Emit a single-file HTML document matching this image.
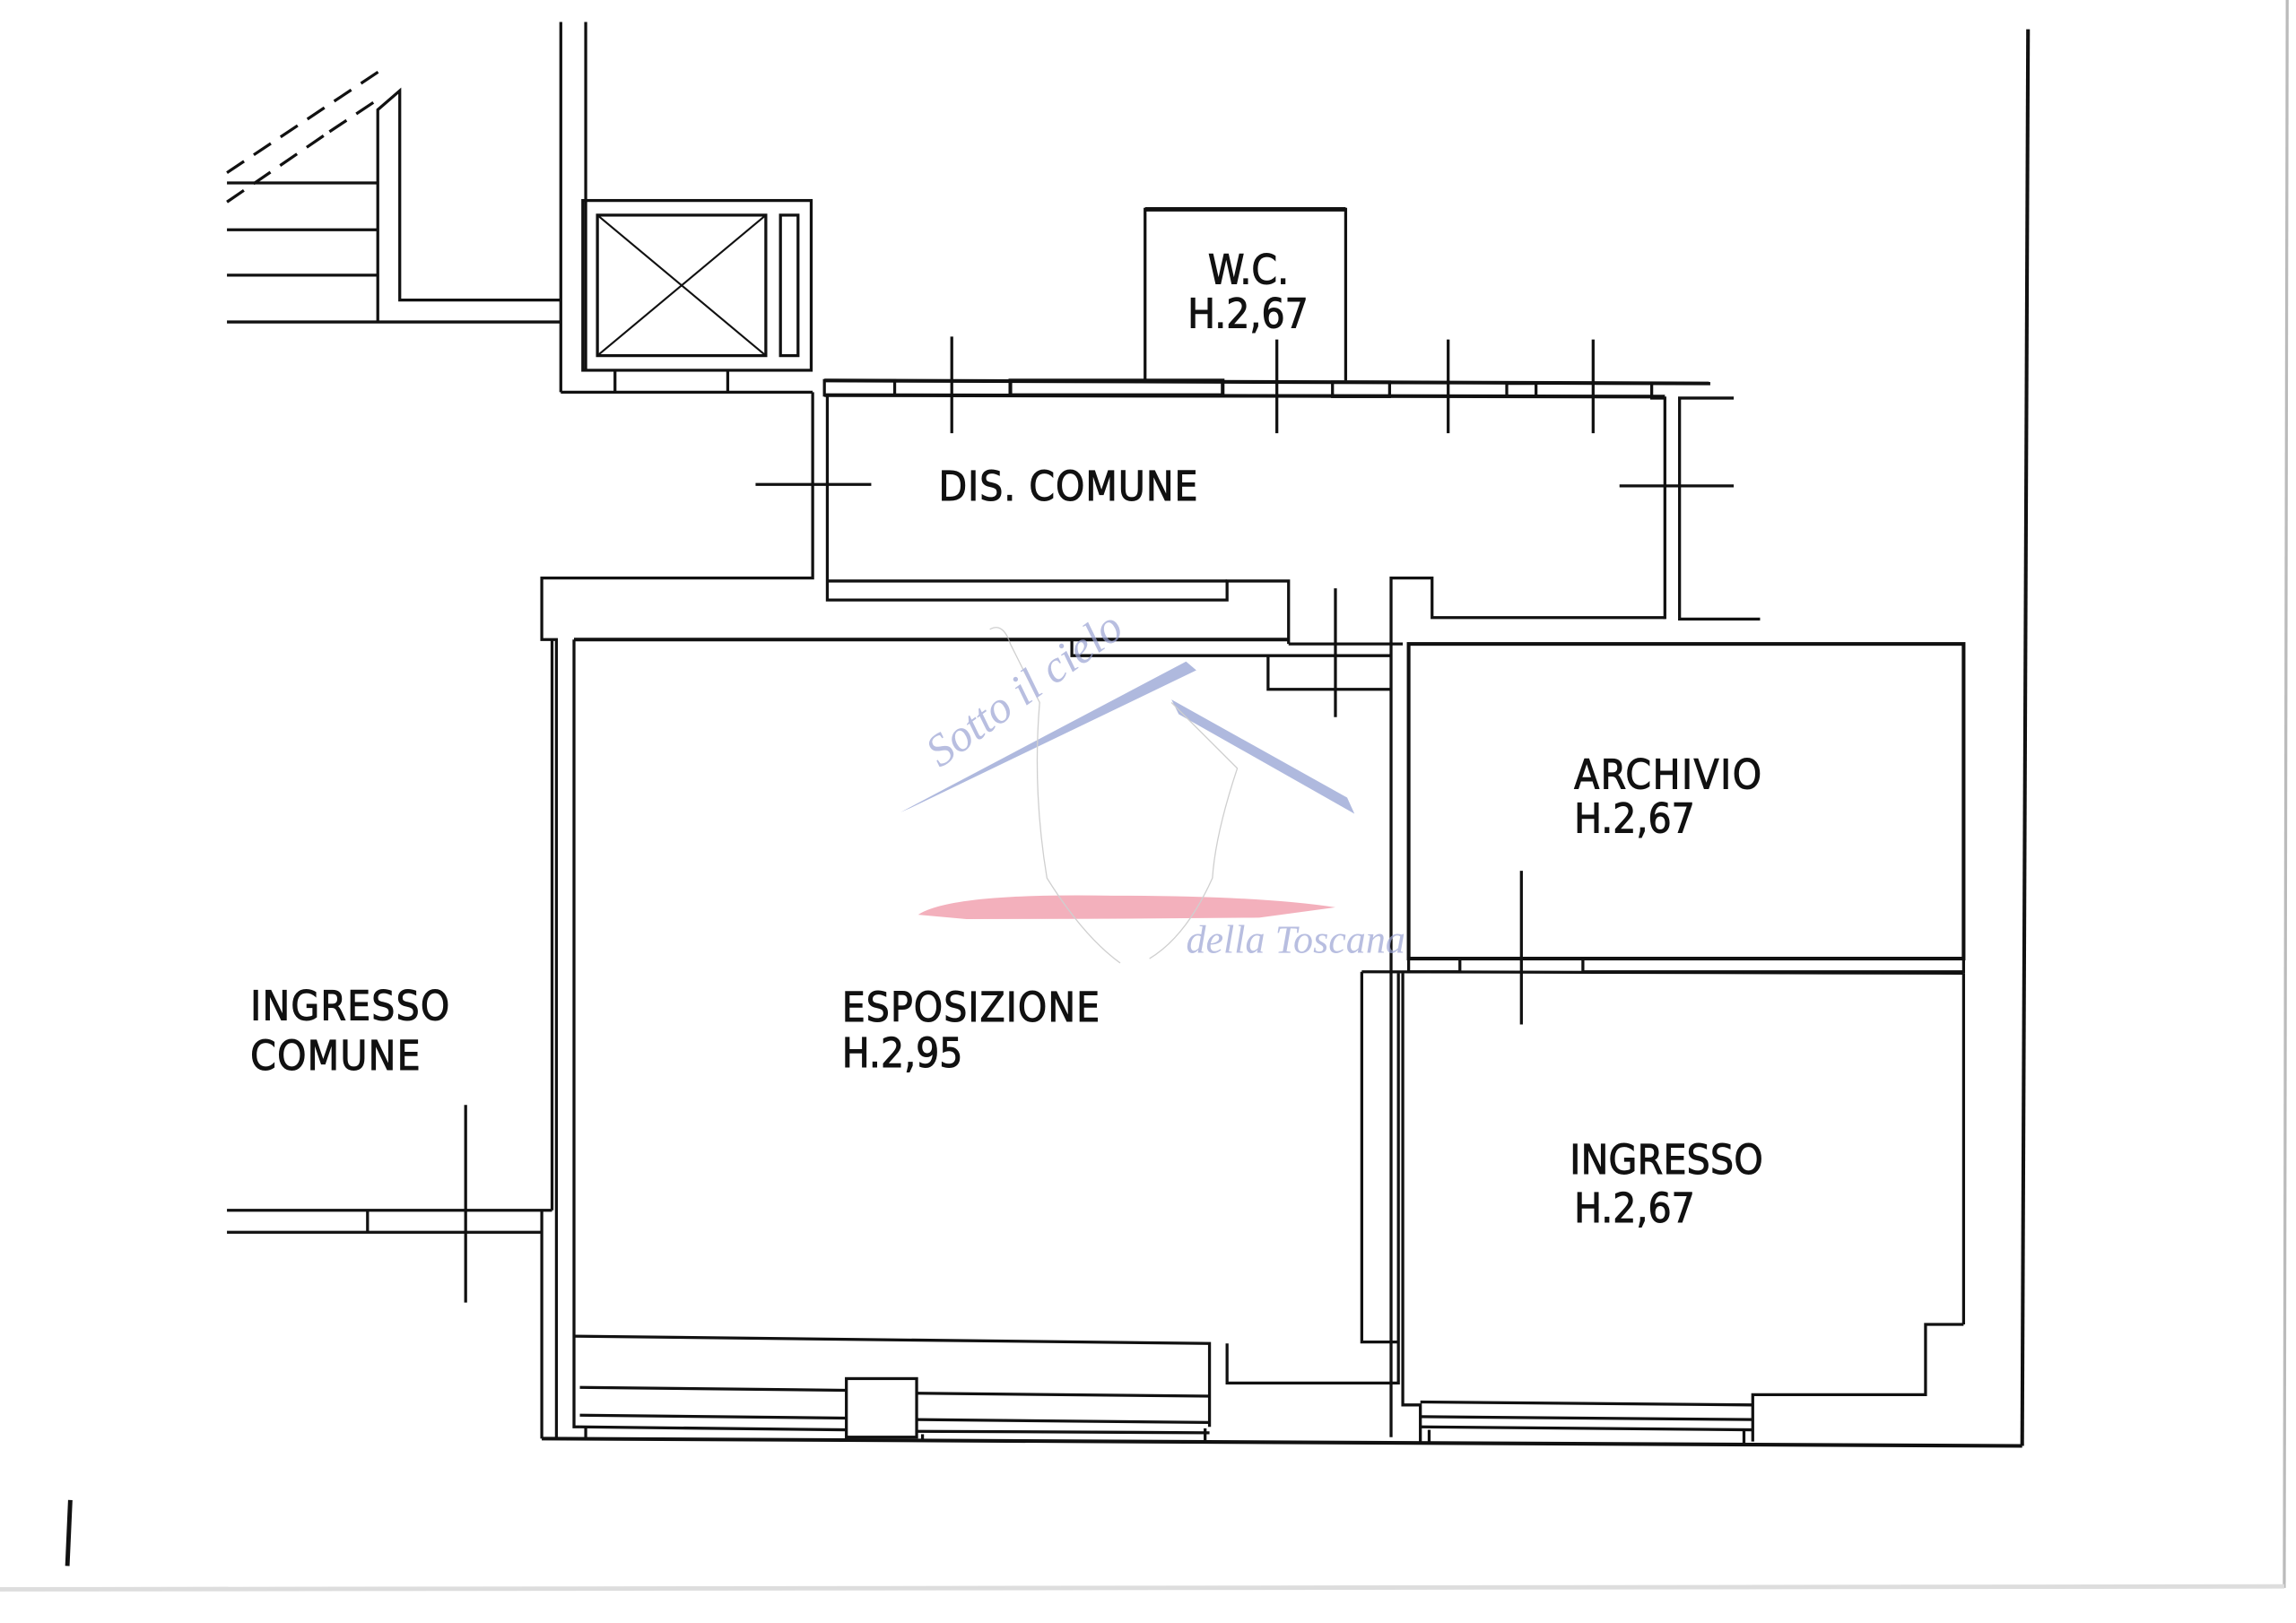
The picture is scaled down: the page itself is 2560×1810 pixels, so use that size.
<!DOCTYPE html>
<html><head><meta charset="utf-8"><style>
html,body{margin:0;padding:0;background:#fff;}
svg{display:block;}
text.l{font-family:"DejaVu Sans Condensed","DejaVu Sans","Liberation Sans",sans-serif;font-size:28px;fill:#111;stroke:#111;stroke-width:0.6;}
</style></head><body>
<svg width="2560" height="1810" viewBox="0 0 1568 1109" preserveAspectRatio="none" xmlns="http://www.w3.org/2000/svg">
<rect width="1568" height="1109" fill="#fff"/>
<g fill="none" stroke="#111" stroke-width="2">
<line x1="1385" y1="20" x2="1381" y2="988" stroke-width="2.5"/>
<line x1="370" y1="983" x2="1381" y2="988" stroke-width="2.5"/>
<line x1="1562" y1="0" x2="1560" y2="1085" stroke="#bbb"/>
<line x1="0" y1="1086" x2="1560" y2="1084" stroke="#ddd" stroke-width="3"/>
<line x1="155" y1="125" x2="258" y2="125"/>
<line x1="155" y1="157" x2="258" y2="157"/>
<line x1="155" y1="188" x2="258" y2="188"/>
<line x1="155" y1="220" x2="383" y2="220"/>
<polyline points="258,220 258,75 273,62 273,205 383,205"/>
<line x1="155" y1="138" x2="225" y2="90" stroke-dasharray="14,8"/>
<line x1="155" y1="118" x2="260" y2="48" stroke-dasharray="14,8"/>
<line x1="225" y1="90" x2="258" y2="68" stroke-dasharray="14,8"/>
<line x1="383" y1="15" x2="383" y2="268"/>
<line x1="400" y1="15" x2="400" y2="253"/>
<line x1="383" y1="268" x2="555" y2="268"/>
<rect x="398" y="137" width="156" height="116"/>
<rect x="408" y="147" width="115" height="96"/>
<line x1="408" y1="147" x2="523" y2="243" stroke-width="1.3"/>
<line x1="523" y1="147" x2="408" y2="243" stroke-width="1.3"/>
<rect x="533" y="147" width="12" height="96"/>
<line x1="420" y1="253" x2="420" y2="268"/>
<line x1="497" y1="253" x2="497" y2="268"/>
<polyline points="782,260 782,143 919,143 919,260"/>
<line x1="782" y1="143" x2="919" y2="143" stroke-width="3"/>
<line x1="563" y1="260" x2="1168" y2="262" stroke-width="2.5"/>
<line x1="563" y1="270" x2="1137" y2="271" stroke-width="2.5"/>
<rect x="563" y="260" width="48" height="10"/>
<rect x="690" y="260" width="145" height="10" stroke-width="2.5"/>
<rect x="910" y="261" width="39" height="10"/>
<rect x="1029" y="262" width="20" height="9"/>
<polyline points="1128,262 1128,272 1137,272 1137,423"/>
<polyline points="1184,272 1147,272 1147,423 1202,423"/>
<polyline points="555,268 555,395 370,395 370,437 380,437 380,983"/>
<line x1="565" y1="270" x2="565" y2="397"/>
<line x1="565" y1="397" x2="838" y2="397"/>
<polyline points="565,397 565,410 838,410 838,397 880,397 880,440"/>
<line x1="392" y1="437" x2="880" y2="437" stroke-width="2.5"/>
<polyline points="732,437 732,448 950,448"/>
<polyline points="866,448 866,471 950,471"/>
<line x1="880" y1="440" x2="950" y2="440"/>
<polyline points="950,982 950,395 978,395 978,422 1137,422"/>
<line x1="962" y1="440" x2="962" y2="655"/>
<line x1="958" y1="440" x2="950" y2="440"/>
<line x1="650" y1="230" x2="650" y2="296"/>
<line x1="872" y1="232" x2="872" y2="296"/>
<line x1="989" y1="232" x2="989" y2="296"/>
<line x1="1088" y1="232" x2="1088" y2="296"/>
<line x1="516" y1="331" x2="595" y2="331"/>
<line x1="1106" y1="332" x2="1184" y2="332"/>
<line x1="912" y1="402" x2="912" y2="490"/>
<line x1="1039" y1="595" x2="1039" y2="700"/>
<line x1="318" y1="755" x2="318" y2="890"/>
<polyline points="392,437 392,975 396,975"/>
<polyline points="392,913 826,918 826,975"/>
<polyline points="838,918 838,945 955,945 955,665"/>
<line x1="396" y1="948" x2="578" y2="950"/>
<line x1="626" y1="952" x2="826" y2="954"/>
<line x1="396" y1="967" x2="578" y2="969"/>
<line x1="626" y1="970" x2="826" y2="972"/>
<line x1="396" y1="975" x2="578" y2="977"/>
<line x1="626" y1="978" x2="826" y2="979"/>
<rect x="578" y="942" width="48" height="40"/>
<line x1="400" y1="975" x2="400" y2="983"/>
<line x1="630" y1="980" x2="630" y2="984"/>
<line x1="823" y1="976" x2="823" y2="985"/>
<rect x="962" y="440" width="379" height="215" stroke-width="2.5"/>
<line x1="930" y1="664" x2="1341" y2="665"/>
<rect x="962" y="655" width="35" height="9"/>
<rect x="1081" y="655" width="260" height="9"/>
<polyline points="930,664 930,917 955,917"/>
<polyline points="958,665 958,960 970,960 970,985"/>
<line x1="1341" y1="665" x2="1341" y2="905"/>
<polyline points="1341,905 1315,905 1315,953 1197,953 1197,985"/>
<line x1="970" y1="958" x2="1197" y2="960"/>
<line x1="970" y1="968" x2="1197" y2="970"/>
<line x1="970" y1="975" x2="1197" y2="977"/>
<line x1="976" y1="977" x2="976" y2="986"/>
<line x1="1191" y1="977" x2="1191" y2="987"/>
<line x1="155" y1="827" x2="377" y2="827"/>
<line x1="155" y1="842" x2="370" y2="842"/>
<line x1="251" y1="827" x2="251" y2="842"/>
<line x1="377" y1="437" x2="377" y2="827"/>
<line x1="370" y1="827" x2="370" y2="983"/>
<line x1="48" y1="1025" x2="46" y2="1070" stroke-width="3"/>
</g>
<g opacity="0.7">
<path d="M615,555 L810,452 L817,458 L622,552 Z" fill="#8d9bd0"/>
<path d="M800,478 L920,545 L925,556 L805,488 Z" fill="#8d9bd0"/>
<path d="M627,625 Q650,610 760,612 Q860,612 912,620 L860,627 Q760,628 660,628 Z" fill="#ee8fa0"/>
<path d="M676,430 Q685,425 690,440 Q700,460 710,480 Q705,540 715,600 Q740,640 765,658 M800,480 L845,525 Q830,570 828,600 Q810,640 785,655" fill="none" stroke="#bbb" stroke-width="0.8"/>
<text x="642" y="525" transform="rotate(-36 642 525)" style="font-family:'Liberation Serif',serif;font-style:italic;font-size:31px;fill:#9aa3d3;">Sotto il cielo</text>
<text x="810" y="651" style="font-family:'Liberation Serif',serif;font-style:italic;font-size:27px;fill:#9aa3d3;">della Toscana</text>
</g>
<text class="l" x="825" y="194">W.C.</text>
<text class="l" x="811" y="224">H.2,67</text>
<text class="l" x="641" y="342" textLength="177">DIS. COMUNE</text>
<text class="l" x="1075" y="539" textLength="128">ARCHIVIO</text>
<text class="l" x="1075" y="569">H.2,67</text>
<text class="l" x="575" y="698" textLength="176">ESPOSIZIONE</text>
<text class="l" x="575" y="729">H.2,95</text>
<text class="l" x="1072" y="802" textLength="132">INGRESSO</text>
<text class="l" x="1075" y="835">H.2,67</text>
<text class="l" x="171" y="697" textLength="136">INGRESSO</text>
<text class="l" x="171" y="731" textLength="116">COMUNE</text>
</svg>
</body></html>
